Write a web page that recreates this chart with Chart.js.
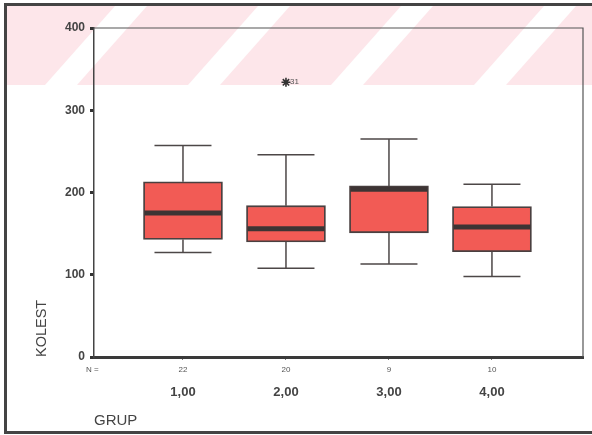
<!DOCTYPE html>
<html>
<head>
<meta charset="utf-8">
<script src="https://cdn.jsdelivr.net/npm/chart.js@4.4.1/dist/chart.umd.min.js"></script>
<style>
html, body { margin: 0; padding: 0; background: #fff; }
#wrap { position: relative; width: 592px; height: 435px; overflow: hidden; }
#frame {
	position: absolute; left: 4px; top: 3px; width: 620px; height: 431px;
	border: 3px solid #444; box-sizing: border-box;
}
canvas { position: absolute; left: 0; top: 0; }
</style>
</head>
<body>
<div id="wrap">
	<div id="frame"></div>
	<canvas id="myChart" width="592" height="435"></canvas>
</div>
<script>
// values
const groups = ["1,00", "2,00", "3,00", "4,00"];
const counts = [22, 20, 9, 10];
const whiskerLow = [127, 108, 113, 98];
const q1 = [143, 140, 151, 128];
const median = [175, 156, 204, 158];
const q3 = [213, 184, 208, 183];
const whiskerHigh = [257, 246, 265, 210];
const outlierGroup = [2];
const outlierValue = [334];
const outlierLabel = ["31"];
const yTicks = [0, 100, 200, 300, 400];

const ink = "#444";

// faint pink scan band with white diagonal stripes across the top
const scanBand = {
	id: "scanBand",
	beforeDraw(chart) {
		const ctx = chart.ctx;
		const top = 6, bottom = 85, left = 7, right = 592;
		ctx.save();
		ctx.beginPath();
		ctx.rect(left, top, right - left, bottom - top);
		ctx.clip();
		ctx.fillStyle = "#fde6ea";
		ctx.fillRect(left, top, right - left, bottom - top);
		ctx.fillStyle = "#ffffff";
		for (let b = 45 - 143; b < right; b += 143) {
			ctx.beginPath();
			ctx.moveTo(b, bottom);
			ctx.lineTo(b + 32, bottom);
			ctx.lineTo(b + 32 + 70, top);
			ctx.lineTo(b + 70, top);
			ctx.closePath();
			ctx.fill();
		}
		ctx.restore();
	}
};

const boxParts = {
	id: "boxParts",
	beforeDatasetsDraw(chart) {
		const { ctx, scales: { x, y } } = chart;
		ctx.save();
		ctx.strokeStyle = "#4d4747";
		ctx.lineWidth = 1.5;
		groups.forEach((g, i) => {
			const cx = x.getPixelForValue(i + 1);
			const hi = y.getPixelForValue(whiskerHigh[i]);
			const lo = y.getPixelForValue(whiskerLow[i]);
			ctx.beginPath();
			ctx.moveTo(cx, y.getPixelForValue(q3[i]));
			ctx.lineTo(cx, hi);
			ctx.moveTo(cx, y.getPixelForValue(q1[i]));
			ctx.lineTo(cx, lo);
			ctx.moveTo(cx - 28.5, hi);
			ctx.lineTo(cx + 28.5, hi);
			ctx.moveTo(cx - 28.5, lo);
			ctx.lineTo(cx + 28.5, lo);
			ctx.stroke();
		});
		ctx.restore();
	},
	afterDatasetsDraw(chart) {
		const { ctx, chartArea: a, scales: { x, y } } = chart;
		ctx.save();
		// medians
		ctx.strokeStyle = "#3d3434";
		ctx.lineWidth = 5;
		groups.forEach((g, i) => {
			const cx = x.getPixelForValue(i + 1);
			const my = y.getPixelForValue(median[i]);
			ctx.beginPath();
			ctx.moveTo(cx - 38.5, my);
			ctx.lineTo(cx + 38.5, my);
			ctx.stroke();
		});
		// outlier labels
		ctx.fillStyle = "#555";
		ctx.font = "8px 'Liberation Sans', Arial, sans-serif";
		ctx.textBaseline = "middle";
		ctx.textAlign = "left";
		outlierValue.forEach((v, i) => {
			ctx.fillText(outlierLabel[i], x.getPixelForValue(outlierGroup[i]) + 4, y.getPixelForValue(v));
		});
		ctx.fillText("N =", 86, 370);
		// top and right edges of the plot
		ctx.strokeStyle = "#555";
		ctx.lineWidth = 1.2;
		ctx.beginPath();
		ctx.moveTo(a.left, a.top);
		ctx.lineTo(a.right, a.top);
		ctx.lineTo(a.right, a.bottom);
		ctx.stroke();
		ctx.restore();
	}
};

const xMin = 0.136, xMax = 4.884;

new Chart(document.getElementById("myChart"), {
	type: "bar",
	data: {
		datasets: [
			{
				type: "bar",
				data: groups.map((g, i) => ({ x: i + 1, y: [q1[i], q3[i]] })),
				backgroundColor: "#f25b55",
				borderColor: "#4a4040",
				borderWidth: 1.8,
				borderSkipped: false,
				barThickness: 79,
			},
			{
				type: "scatter",
				data: outlierValue.map((v, i) => ({ x: outlierGroup[i], y: v })),
				pointStyle: "star",
				radius: 4.5,
				borderColor: "#333",
				borderWidth: 1.6,
			},
		],
	},
	options: {
		responsive: false,
		animation: false,
		layout: { padding: { left: 0, top: 28, right: 9, bottom: 0 } },
		plugins: {
			legend: { display: false },
			tooltip: { enabled: false },
		},
		scales: {
			x: {
				type: "linear",
				position: "bottom",
				offset: false,
				min: xMin,
				max: xMax,
				afterBuildTicks: s => { s.ticks = counts.map((c, i) => ({ value: i + 1 })); },
				ticks: {
					callback: v => counts[v - 1],
					font: { size: 8, family: "'Liberation Sans', Arial, sans-serif" },
					color: "#555",
					padding: 5,
					maxRotation: 0,
					autoSkip: false,
				},
				grid: { offset: false, drawOnChartArea: false, tickLength: 3, color: "#777" },
				border: { color: "#3a3a3a", width: 3 },
				afterFit: s => { s.height = 20; },
			},
			x2: {
				type: "linear",
				position: "bottom",
				offset: false,
				min: xMin,
				max: xMax,
				afterBuildTicks: s => { s.ticks = groups.map((g, i) => ({ value: i + 1 })); },
				ticks: {
					callback: v => groups[v - 1],
					font: { size: 13, weight: "bold", family: "'Liberation Sans', Arial, sans-serif" },
					color: ink,
					padding: 0,
					maxRotation: 0,
					autoSkip: false,
				},
				grid: { display: false, offset: false },
				border: { display: false },
				title: {
					display: true,
					text: "GRUP",
					align: "start",
					color: ink,
					font: { size: 15, family: "'Liberation Sans', Arial, sans-serif" },
					padding: { bottom: 5 },
				},
				afterFit: s => { s.height = 58; },
			},
			y: {
				min: 0,
				max: 400,
				afterBuildTicks: s => { s.ticks = yTicks.map(v => ({ value: v })); },
				ticks: {
					font: { size: 12, weight: "bold", family: "'Liberation Sans', Arial, sans-serif" },
					color: ink,
					padding: 5,
				},
				grid: { drawOnChartArea: false, tickLength: 4, tickWidth: 3, color: "#333" },
				border: { color: "#444", width: 1.5 },
				title: {
					display: true,
					text: "KOLEST",
					align: "start",
					color: ink,
					font: { size: 14.5, family: "'Liberation Sans', Arial, sans-serif" },
					padding: { top: 33 },
				},
				afterFit: s => { s.width = 94; },
			},
		},
	},
	plugins: [scanBand, boxParts],
});
</script>
</body>
</html>
